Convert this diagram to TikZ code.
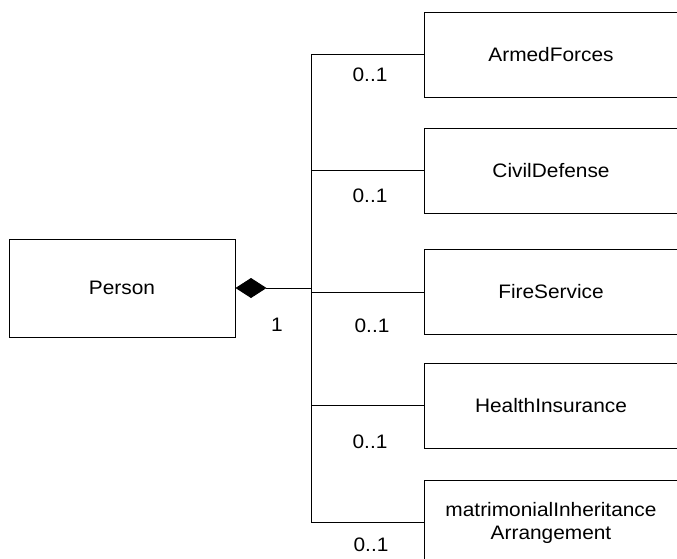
\documentclass[tikz,border=0pt]{standalone}
\usepackage{fontspec}
\setmainfont[FakeStretch=1.07]{Liberation Sans}
\usetikzlibrary{arrows.meta}
\begin{document}
\begin{tikzpicture}[x=1pt,y=-1pt,
  cls/.style={draw=black,line width=1pt,minimum width=254pt,minimum height=85pt,inner sep=0pt,font=\fontsize{19.5}{23}\selectfont,align=center},
  mult/.style={font=\fontsize{19.5}{23}\selectfont,inner sep=0pt},
  conn/.style={draw=black,line width=1pt}]
\useasboundingbox (0,0) rectangle (677,558);
\clip (0,0) rectangle (677,558);
\fill[white] (0,0) rectangle (677,558);
\node[cls,minimum width=226pt,minimum height=98pt] (person) at (122,288) {Person};
\node[cls] (armed) at (551,54.5) {ArmedForces};
\node[cls] (civil) at (551,170.5) {CivilDefense};
\node[cls] (fire) at (551,292) {FireService};
\node[cls] (health) at (551,405.5) {HealthInsurance};
\node[cls] (matri) at (551,522.5) {matrimonialInheritance\\Arrangement};
\coordinate (j) at (311,288);
\draw[conn,{Diamond[length=31pt,width=20pt,fill=black]}-] (person.east) -- (j);
\draw[conn] (j) |- (armed.west);
\draw[conn] (j) |- (civil.west);
\draw[conn] (j) |- (fire.west);
\draw[conn] (j) |- (health.west);
\draw[conn] (j) |- (matri.west);
\node[mult] (m0) at (277,325) {1};
\node[mult] (m1) at (370,75) {0..1};
\node[mult] (m2) at (370,196) {0..1};
\node[mult] (m3) at (372,326) {0..1};
\node[mult] (m4) at (370,442) {0..1};
\node[mult] (m5) at (371,545) {0..1};
\end{tikzpicture}
\end{document}
